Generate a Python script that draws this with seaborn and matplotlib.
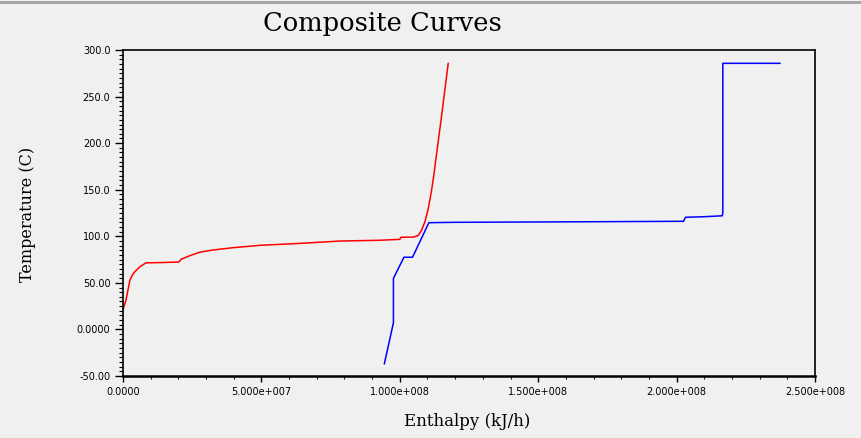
import numpy as np
import pandas as pd
import matplotlib
matplotlib.use("Agg")
import matplotlib.pyplot as plt
from matplotlib.lines import Line2D
from matplotlib.ticker import MultipleLocator
import seaborn as sns

# ---------- data ---------- #
hot_h = [0.0, 1.08, 2.5, 3.3, 4.3, 6.1, 8.3, 14.0, 20.2, 21.0, 24.0, 27.8, 32.6,
         39.9, 49.5, 64.0, 78.4, 92.5, 100.0, 100.4, 105.1, 106.7, 107.9, 109.1,
         110.3, 111.5, 112.3, 113.0, 114.9, 117.5]
hot_t = [20.9, 31.6, 53.0, 58.0, 62.0, 67.3, 71.5, 71.8, 72.4, 75.3, 79.0, 83.0, 85.3,
         87.8, 90.3, 92.4, 94.9, 95.7, 96.7, 98.9, 99.2, 101.0, 106.7, 115.7,
         130.0, 149.7, 165.8, 182.0, 224.8, 285.7]

cold_h = [94.4, 97.7, 97.7, 101.5, 104.6, 110.5, 120.2, 160.0, 202.5, 203.2,
          209.9, 216.5, 216.7, 216.7, 237.4]
cold_t = [-37.1, 7.2, 54.9, 77.5, 77.5, 114.6, 115.0, 115.5, 116.1, 120.4,
          121.0, 122.0, 125.3, 285.7, 285.7]

x_ticks = [0, 5e7, 1e8, 1.5e8, 2e8, 2.5e8]
x_labels = ["0.0000", "5.000e+007", "1.000e+008", "1.500e+008", "2.000e+008", "2.500e+008"]
y_ticks = [-50, 0, 50, 100, 150, 200, 250, 300]
y_labels = ["-50.00", "0.0000", "50.00", "100.0", "150.0", "200.0", "250.0", "300.0"]

hot = pd.DataFrame({"Enthalpy": np.array(hot_h) * 1e6, "Temperature": hot_t})
cold = pd.DataFrame({"Enthalpy": np.array(cold_h) * 1e6, "Temperature": cold_t})

# ---------- plot ---------- #
sns.set_style("white")
bg = "#f0f0f0"
plt.rcParams["font.family"] = ["DejaVu Sans"]

fig = plt.figure(figsize=(8.62, 4.38), dpi=100, facecolor=bg)
ax = fig.add_axes([123 / 862, 1 - 376 / 438, 692 / 862, 326 / 438])
ax.set_facecolor(bg)

sns.lineplot(data=hot, x="Enthalpy", y="Temperature", sort=False, estimator=None,
             color="#ff0000", linewidth=1.1, ax=ax)
sns.lineplot(data=cold, x="Enthalpy", y="Temperature", sort=False, estimator=None,
             color="#0000ff", linewidth=1.1, ax=ax)

ax.set_xlim(0, 2.5e8)
ax.set_ylim(-50, 300)
ax.set_xticks(x_ticks)
ax.set_xticklabels(x_labels, fontsize=7)
ax.set_yticks(y_ticks)
ax.set_yticklabels(y_labels, fontsize=7)
ax.xaxis.set_minor_locator(MultipleLocator(1e7))
ax.yaxis.set_minor_locator(MultipleLocator(5))
ax.tick_params(axis="y", which="both", left=True, labelleft=True, labelcolor="black")
ax.tick_params(axis="x", which="both", bottom=True, labelbottom=True, labelcolor="black")
ax.tick_params(axis="y", which="major", direction="out", length=6, width=1, pad=3, color="black")
ax.tick_params(axis="y", which="minor", direction="out", length=3, width=0.8, color="black")
ax.tick_params(axis="x", which="major", direction="out", length=4, width=1, pad=4, color="black")
ax.tick_params(axis="x", which="minor", direction="out", length=2, width=0.8, color="black")
ax.grid(False)

for side in ["top", "right", "left"]:
    ax.spines[side].set_visible(True)
    ax.spines[side].set_color("black")
    ax.spines[side].set_linewidth(1.2)
ax.spines["bottom"].set_color("black")
ax.spines["bottom"].set_linewidth(1.8)

ax.set_xlabel("")
ax.set_ylabel("")
fig.text(467 / 862, 1 - 422 / 438, "Enthalpy (kJ/h)", family="DejaVu Serif",
         fontsize=12, ha="center", va="center", color="black")
fig.text(28 / 862, 1 - 214 / 438, "Temperature (C)", family="DejaVu Serif",
         fontsize=11.5, ha="center", va="center", rotation=90, color="black")
fig.text(382 / 862, 1 - 24 / 438, "Composite Curves", family="DejaVu Serif",
         fontsize=18.5, ha="center", va="center", color="black")

# window border at the top
fig.add_artist(Line2D([0, 1], [1 - 2 / 438, 1 - 2 / 438], transform=fig.transFigure,
                      color="#a0a0a0", linewidth=2))

fig.savefig("out.png", dpi=100, facecolor=bg)
